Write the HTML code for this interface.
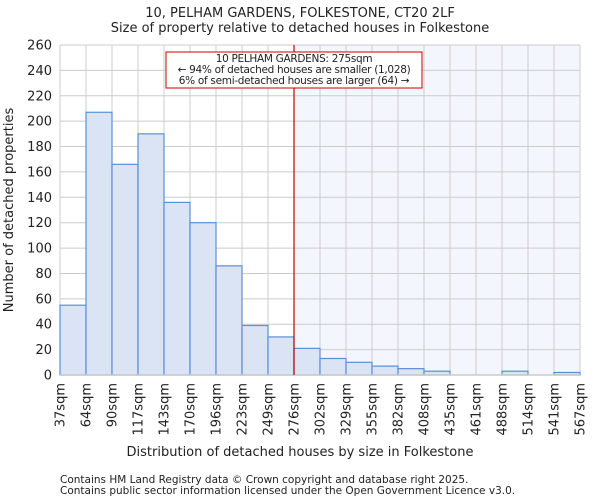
<!DOCTYPE html>
<html><head><meta charset="utf-8"><style>
body{margin:0;background:#fff;font-family:"DejaVu Sans","Liberation Sans",sans-serif;}
svg text{font-family:"DejaVu Sans","Liberation Sans",sans-serif;fill:#222;}
</style></head><body>
<svg id="chart" width="600" height="500" xmlns="http://www.w3.org/2000/svg">
<text x="300" y="17" font-size="13" text-anchor="middle">10, PELHAM GARDENS, FOLKESTONE, CT20 2LF</text>
<text x="300" y="32" font-size="13" text-anchor="middle">Size of property relative to detached houses in Folkestone</text>
<g id="plot"></g>
<text x="300" y="456" font-size="13" text-anchor="middle">Distribution of detached houses by size in Folkestone</text>
<text transform="translate(13,210) rotate(-90)" font-size="13" text-anchor="middle">Number of detached properties</text>
<text x="60" y="483" font-size="10.5" fill="#555">Contains HM Land Registry data © Crown copyright and database right 2025.</text>
<text x="60" y="494" font-size="10.5" fill="#555">Contains public sector information licensed under the Open Government Licence v3.0.</text>
</svg>
<script>
const binLabels=["37sqm","64sqm","90sqm","117sqm","143sqm","170sqm","196sqm","223sqm","249sqm","276sqm","302sqm","329sqm","355sqm","382sqm","408sqm","435sqm","461sqm","488sqm","514sqm","541sqm","567sqm"];
const counts=[55,207,166,190,136,120,86,39,30,21,13,10,7,5,3,0,0,3,0,2];
const yTicks=[0,20,40,60,80,100,120,140,160,180,200,220,240,260];
const markerBin=9;
const NS="http://www.w3.org/2000/svg";
const g=document.getElementById('plot');
const X0=60,X1=580,Y0=375,Y1=45,yMax=260;
const bw=(X1-X0)/counts.length;
const xs=i=>X0+i*bw;
const ys=v=>Y0-(v/yMax)*(Y0-Y1);
function mk(t,a){const e=document.createElementNS(NS,t);for(const k in a)e.setAttribute(k,a[k]);g.appendChild(e);return e;}
let r=mk('rect',{x:xs(markerBin),y:Y1,width:X1-xs(markerBin),height:Y0-Y1,fill:'#f3f6fd'});


yTicks.forEach(v=>{
 const l=mk('line',{x1:X0,x2:X1,y1:ys(v),y2:ys(v),stroke:'#cccccc','stroke-width':1});
 
 
 const t=mk('text',{x:X0-8,y:ys(v)+4.5,'font-size':13,'text-anchor':'end'});
 t.textContent=v;
 
 
});
binLabels.forEach((s,i)=>{
 const l=mk('line',{x1:xs(i),x2:xs(i),y1:Y1,y2:Y0,stroke:'#cccccc','stroke-width':1});
 
 
 const t=mk('text',{transform:`translate(${xs(i)+4.5},${Y0+8}) rotate(-90)`,'font-size':13,'text-anchor':'end'});
 t.textContent=s;
 
 
});
counts.forEach((v,i)=>{
 if(v<=0)return;
 const b=mk('rect',{x:xs(i),y:ys(v),width:bw,height:Y0-ys(v),fill:'#dae4f4',stroke:'#5a8fd6','stroke-width':1.2});
 
 
});
const ax=mk('line',{x1:X0,x2:X1,y1:Y0,y2:Y0,stroke:'#ccc','stroke-width':1.5});


const m=mk('line',{x1:xs(markerBin),x2:xs(markerBin),y1:Y1,y2:Y0,stroke:'#cc0000','stroke-width':1.2});


const box=mk('rect',{x:166,y:52,width:256,height:36,fill:'#fff',stroke:'#cc0000','stroke-width':1});


["10 PELHAM GARDENS: 275sqm","← 94% of detached houses are smaller (1,028)","6% of semi-detached houses are larger (64) →"].forEach((s,i)=>{
 const t=mk('text',{x:294,y:62+i*11,'font-size':10.5,'text-anchor':'middle','letter-spacing':'-0.3'});
 t.textContent=s;
 
 
});
</script>
</body></html>
